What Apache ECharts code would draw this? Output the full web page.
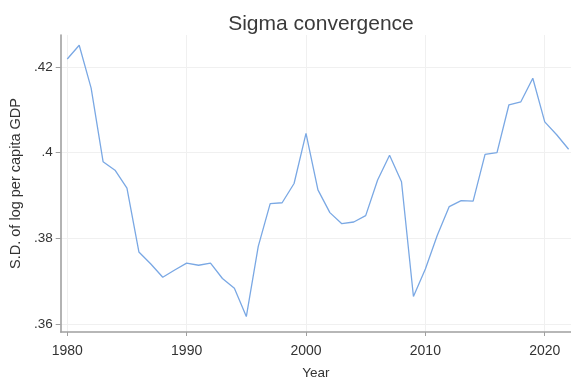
<!DOCTYPE html>
<html>
<head>
<meta charset="utf-8">
<script src="https://cdn.jsdelivr.net/npm/echarts@6/dist/echarts.min.js"></script>
<style>
html,body{margin:0;padding:0;background:#fff;}
#c{width:571px;height:385px;}
</style>
</head>
<body>
<div id="c"></div>
<script>
var years = [1980,1981,1982,1983,1984,1985,1986,1987,1988,1989,1990,1991,1992,1993,1994,1995,1996,1997,1998,1999,2000,2001,2002,2003,2004,2005,2006,2007,2008,2009,2010,2011,2012,2013,2014,2015,2016,2017,2018,2019,2020,2021,2022];
var sdValues = [0.4219,0.4251,0.4151,0.3979,0.3959,0.3917,0.3768,0.3740,0.3709,0.3726,0.3742,0.3737,0.3742,0.3706,0.3683,0.3617,0.3781,0.3881,0.3883,0.3928,0.4045,0.3913,0.3860,0.3834,0.3838,0.3853,0.3936,0.3994,0.3932,0.3664,0.3728,0.3807,0.3874,0.3888,0.3887,0.3996,0.4000,0.4112,0.4119,0.4174,0.4072,0.4042,0.4008];
var xTicks = [1980,1990,2000,2010,2020];
var yTicks = [0.36,0.38,0.40,0.42];
var yTickLabels = ['.36','.38','.4','.42'];

var font = '"Liberation Sans", Arial, sans-serif';
var chart = echarts.init(document.getElementById('c'), null, {renderer:'canvas'});
chart.setOption({
  animation:false,
  backgroundColor:'#ffffff',
  title:{
    text:'Sigma convergence',
    left:316, top:9, textAlign:'center',
    textStyle:{fontFamily:font,fontSize:21,fontWeight:'normal',color:'#3a3a3a'}
  },
  grid:{left:60.7,right:0,top:35,bottom:42.5},
  xAxis:{
    type:'value', min:1979.45, max:2022.2,
    name:'Year', nameLocation:'middle', nameGap:34,
    nameTextStyle:{fontFamily:font,fontSize:13.5,color:'#333333'},
    axisLine:{show:true,lineStyle:{color:'#a0a0a0',width:1.6}},
    axisTick:{show:true,length:4,customValues:xTicks,lineStyle:{color:'#a0a0a0',width:1}},
    axisLabel:{customValues:xTicks,margin:12,fontFamily:font,fontSize:14,color:'#333333',formatter:function(v){return String(v);}},
    splitLine:{show:true,lineStyle:{color:'#f0f0f0',width:1}}
  },
  yAxis:{
    type:'value', min:0.3581, max:0.4275,
    name:'S.D. of log per capita GDP', nameLocation:'middle', nameGap:32, nameRotate:90,
    nameTextStyle:{fontFamily:font,fontSize:14.5,color:'#333333',padding:[0,0,0,0]},
    axisLine:{show:true,lineStyle:{color:'#a0a0a0',width:1.6}},
    axisTick:{show:true,length:5,customValues:yTicks,lineStyle:{color:'#a0a0a0',width:1}},
    axisLabel:{customValues:yTicks,margin:8,fontFamily:font,fontSize:13.5,color:'#333333',
      formatter:function(v){for(var i=0;i<yTicks.length;i++){if(Math.abs(v-yTicks[i])<1e-6)return yTickLabels[i];}return '';}},
    splitLine:{show:true,lineStyle:{color:'#f0f0f0',width:1}}
  },
  series:[{
    type:'line',
    data:years.map(function(y,i){return [y,sdValues[i]];}),
    showSymbol:false,
    lineStyle:{color:'#7aa8e4',width:1.3},
    itemStyle:{color:'#7aa8e4'}
  }]
});
</script>
</body>
</html>
